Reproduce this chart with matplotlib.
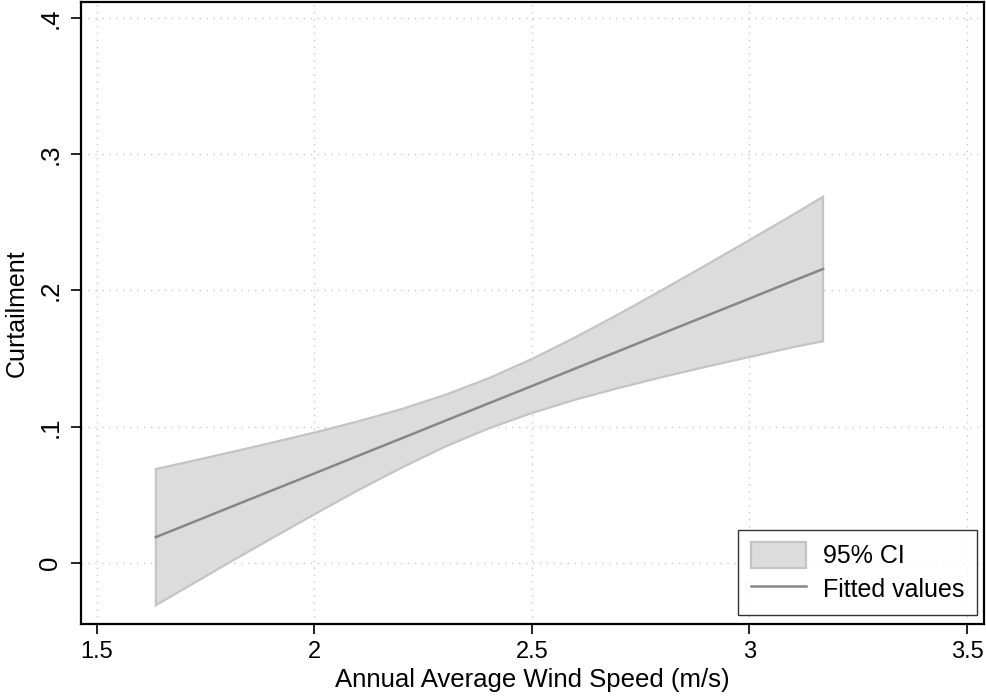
import matplotlib
matplotlib.use("Agg")
import matplotlib.pyplot as plt
from matplotlib.patches import Patch
from matplotlib.lines import Line2D

plt.rcParams['font.family'] = ['Liberation Sans', 'DejaVu Sans']

# Data
wind = [1.636, 1.7, 1.8, 1.9, 2.0, 2.1, 2.2, 2.3, 2.4, 2.5, 2.6, 2.7, 2.8, 2.9, 3.0, 3.1, 3.169]
fitted = [0.019, 0.0272, 0.0401, 0.0529, 0.0657, 0.0786, 0.0914, 0.1043, 0.1171, 0.1299,
          0.1428, 0.1556, 0.1685, 0.1813, 0.1941, 0.2070, 0.2158]
ci_upper = [0.069, 0.0735, 0.0807, 0.0881, 0.0957, 0.1039, 0.1129, 0.1233, 0.1355, 0.1497,
            0.1657, 0.1827, 0.2005, 0.2186, 0.2370, 0.2556, 0.2688]
ci_lower = [-0.031, -0.0191, -0.0005, 0.0177, 0.0357, 0.0533, 0.0699, 0.0853, 0.0987, 0.1101,
            0.1199, 0.1285, 0.1365, 0.1440, 0.1512, 0.1584, 0.1628]

xticks = [1.5, 2, 2.5, 3, 3.5]
xticklabels = ["1.5", "2", "2.5", "3", "3.5"]
yticks = [0, 0.1, 0.2, 0.3, 0.4]
yticklabels = ["0", ".1", ".2", ".3", ".4"]

W, H = 987, 699
fig = plt.figure(figsize=(W / 100, H / 100), dpi=100)
ax_l, ax_r, ax_t, ax_b = 80.5, 984, 2, 624
ax = fig.add_axes([ax_l / W, (H - ax_b) / H, (ax_r - ax_l) / W, (ax_b - ax_t) / H])

band_face = "#dcdcdc"
band_edge = "#c4c4c4"
line_col = "#878787"

xs = wind + wind[::-1]
ys = ci_upper + ci_lower[::-1]
ax.fill(xs, ys, facecolor=band_face, edgecolor=band_edge, linewidth=1.6, zorder=2)
ax.plot(wind, fitted, color=line_col, linewidth=1.8, zorder=3)

# x: 1.5 at px 96.7, 0.5 per 217.6 px ; y: 0 at px 563, 0.1 per 136.25 px
ppx = 217.6 / 0.5
ax.set_xlim(1.5 - (96.7 - ax_l) / ppx, 1.5 + (ax_r - 96.7) / ppx)
ppy = 136.25 / 0.1
ax.set_ylim(-(ax_b - 563) / ppy, (563 - ax_t) / ppy)

ax.set_xticks(xticks)
ax.set_xticklabels(xticklabels)
ax.set_yticks(yticks)
ax.set_yticklabels(yticklabels, rotation=90, va="center")

ax.grid(True, color="#c8c8c8", linestyle=(0, (1, 4)), linewidth=1.0, zorder=0)
ax.set_axisbelow(True)

ax.tick_params(axis="both", direction="out", length=7, width=1.2, colors="black")
ax.tick_params(axis="x", pad=5, labelsize=17)
ax.tick_params(axis="y", pad=6, labelsize=18.5)
for sp in ax.spines.values():
    sp.set_linewidth(1.6)
    sp.set_color("black")

ax.set_xlabel("Annual Average Wind Speed (m/s)", fontsize=18.5, labelpad=4)
ax.set_ylabel("Curtailment", fontsize=18, labelpad=7)

handles = [Patch(facecolor=band_face, edgecolor=band_edge, linewidth=1.6),
           Line2D([0], [0], color=line_col, linewidth=1.8)]
leg = ax.legend(handles, ["95% CI", "Fitted values"], loc="lower right",
                bbox_to_anchor=((977 - ax_l) / (ax_r - ax_l), (ax_b - 614.5) / (ax_b - ax_t)),
                fontsize=18, frameon=True, fancybox=False,
                edgecolor="black", handlelength=2.2, handleheight=1.2, borderpad=0.5,
                labelspacing=0.3, handletextpad=0.7, borderaxespad=0.0)
leg.get_frame().set_linewidth(1.0)

fig.savefig("out.png", dpi=100, facecolor="white")
